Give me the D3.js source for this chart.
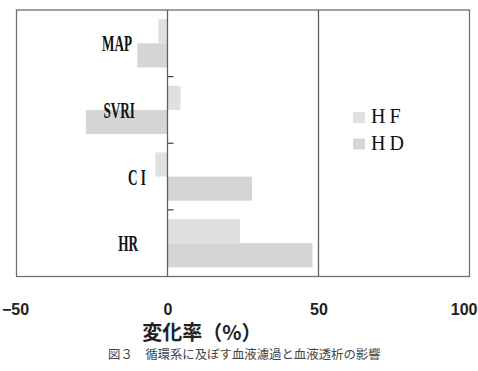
<!DOCTYPE html>
<html>
<head>
<meta charset="utf-8">
<script src="https://cdn.jsdelivr.net/npm/d3@7"></script>
<style>
  body { margin: 0; background: #fff; }
</style>
</head>
<body>
<div id="chart"></div>
<script>
let categories = ["MAP", "SVRI", "CI", "HR"];
let catLabels = ["MAP", "SVRI", "C I", "HR"];
let series = ["HF", "HD"];
let hfValues = [-3, 4.3, -4, 24];
let hdValues = [-10, -27, 28, 48];
let xTicks = [-50, 0, 50, 100];

let width = 478;
let height = 371;
let plotLeft = 16.5, plotRight = 469.5, plotTop = 10, plotBottom = 276.5;

let color = d3.scaleOrdinal()
     .domain(series)
     .range(["#e0e0e0", "#d5d5d5"]);

let svg = d3.select("#chart").append("svg")
     .attr("width", width)
     .attr("height", height);

let x = d3.scaleLinear()
     .domain([-50, 100])
     .range([plotLeft, plotRight]);

let y = d3.scaleBand()
     .domain(categories)
     .range([plotTop, plotBottom]);

let y1 = d3.scaleBand()
     .domain(series)
     .range([0, y.bandwidth()])
     .paddingOuter(0.38);

let data = categories.map(function(c, i) {
     return {cat: c, label: catLabels[i], HF: hfValues[i], HD: hdValues[i]};
});

// bars
let g = svg.selectAll(".cat")
     .data(data)
     .enter().append("g")
     .attr("class", "cat")
     .attr("transform", function(d) { return "translate(0," + y(d.cat) + ")"; });

g.selectAll("rect")
     .data(function(d) { return series.map(function(s) { return {key: s, value: d[s]}; }); })
     .enter().append("rect")
     .attr("x", function(d) { return x(Math.min(0, d.value)); })
     .attr("y", function(d) { return y1(d.key); })
     .attr("width", function(d) { return Math.abs(x(d.value) - x(0)); })
     .attr("height", y1.bandwidth())
     .style("fill", function(d) { return color(d.key); });

// category labels (condensed bold serif)
g.append("text")
     .attr("transform", function(d) {
          let cx = { "MAP": 132, "SVRI": 135, "CI": 146, "HR": 138 }[d.cat];
          return "translate(" + cx + "," + (y.bandwidth() / 2 + 8) + ") scale(0.55,1)";
     })
     .attr("text-anchor", "end")
     .style("font-family", "'Liberation Serif', serif")
     .style("font-weight", "bold")
     .style("font-size", "24px")
     .style("fill", "#111")
     .text(function(d) { return d.label; });

// frame and vertical lines
svg.append("rect")
     .attr("x", plotLeft).attr("y", plotTop)
     .attr("width", plotRight - plotLeft).attr("height", plotBottom - plotTop)
     .style("fill", "none")
     .style("stroke", "#707070")
     .style("stroke-width", 1.3);

svg.selectAll(".vline")
     .data([0, 50])
     .enter().append("line")
     .attr("class", "vline")
     .attr("x1", function(d) { return x(d); })
     .attr("x2", function(d) { return x(d); })
     .attr("y1", plotTop).attr("y2", plotBottom)
     .style("stroke", "#606060")
     .style("stroke-width", 1.3);

// category boundary ticks on the zero line
svg.selectAll(".ctick")
     .data(categories.slice(1))
     .enter().append("line")
     .attr("class", "ctick")
     .attr("x1", x(0)).attr("x2", x(0) + 6)
     .attr("y1", function(d) { return y(d); })
     .attr("y2", function(d) { return y(d); })
     .style("stroke", "#404040")
     .style("stroke-width", 1.2);

// x axis
let xAxis = d3.axisBottom(x)
     .tickValues(xTicks)
     .tickSize(0)
     .tickPadding(0)
     .tickFormat(function(d) { return d < 0 ? "\u2212" + Math.abs(d) : d; });

let ax = svg.append("g")
     .attr("transform", "translate(0,304)")
     .call(xAxis);
ax.select(".domain").remove();
ax.selectAll("text")
     .style("font-family", "'Liberation Sans', Arial, sans-serif")
     .style("font-weight", "bold")
     .style("font-size", "16px")
     .style("fill", "#222");
ax.selectAll(".tick")
     .filter(function(d) { return d === 100; })
     .select("text")
     .attr("dx", -4)
     .attr("text-anchor", "end")
     .attr("x", 478 - x(100) + 3);
ax.selectAll(".tick")
     .filter(function(d) { return d === -50; })
     .select("text")
     .attr("dx", -1.5);

svg.append("text")
     .attr("x", 202)
     .attr("y", 340)
     .attr("text-anchor", "middle")
     .style("font-family", "'Noto Sans CJK JP', sans-serif")
     .style("font-weight", "bold")
     .style("font-size", "20px")
     .style("fill", "#222")
     .text("変化率（%）");

svg.append("text")
     .attr("x", 108)
     .attr("y", 359)
     .style("font-family", "'Noto Sans CJK JP', sans-serif")
     .style("font-size", "12.4px")
     .style("fill", "#444")
     .text("図３　循環系に及ぼす血液濾過と血液透析の影響");

// legend
let legend = svg.selectAll(".legend")
     .data(series)
     .enter().append("g")
     .attr("class", "legend")
     .attr("transform", function(d, i) { return "translate(353," + (112 + i * 26.5) + ")"; });

legend.append("rect")
     .attr("width", 12).attr("height", 11)
     .style("fill", function(d) { return color(d); });

legend.append("text")
     .attr("x", 18)
     .attr("y", 11)
     .style("font-family", "'Liberation Serif', serif")
     .style("font-size", "20px")
     .style("letter-spacing", "4px")
     .style("fill", "#111")
     .text(function(d) { return d; });
</script>
</body>
</html>
